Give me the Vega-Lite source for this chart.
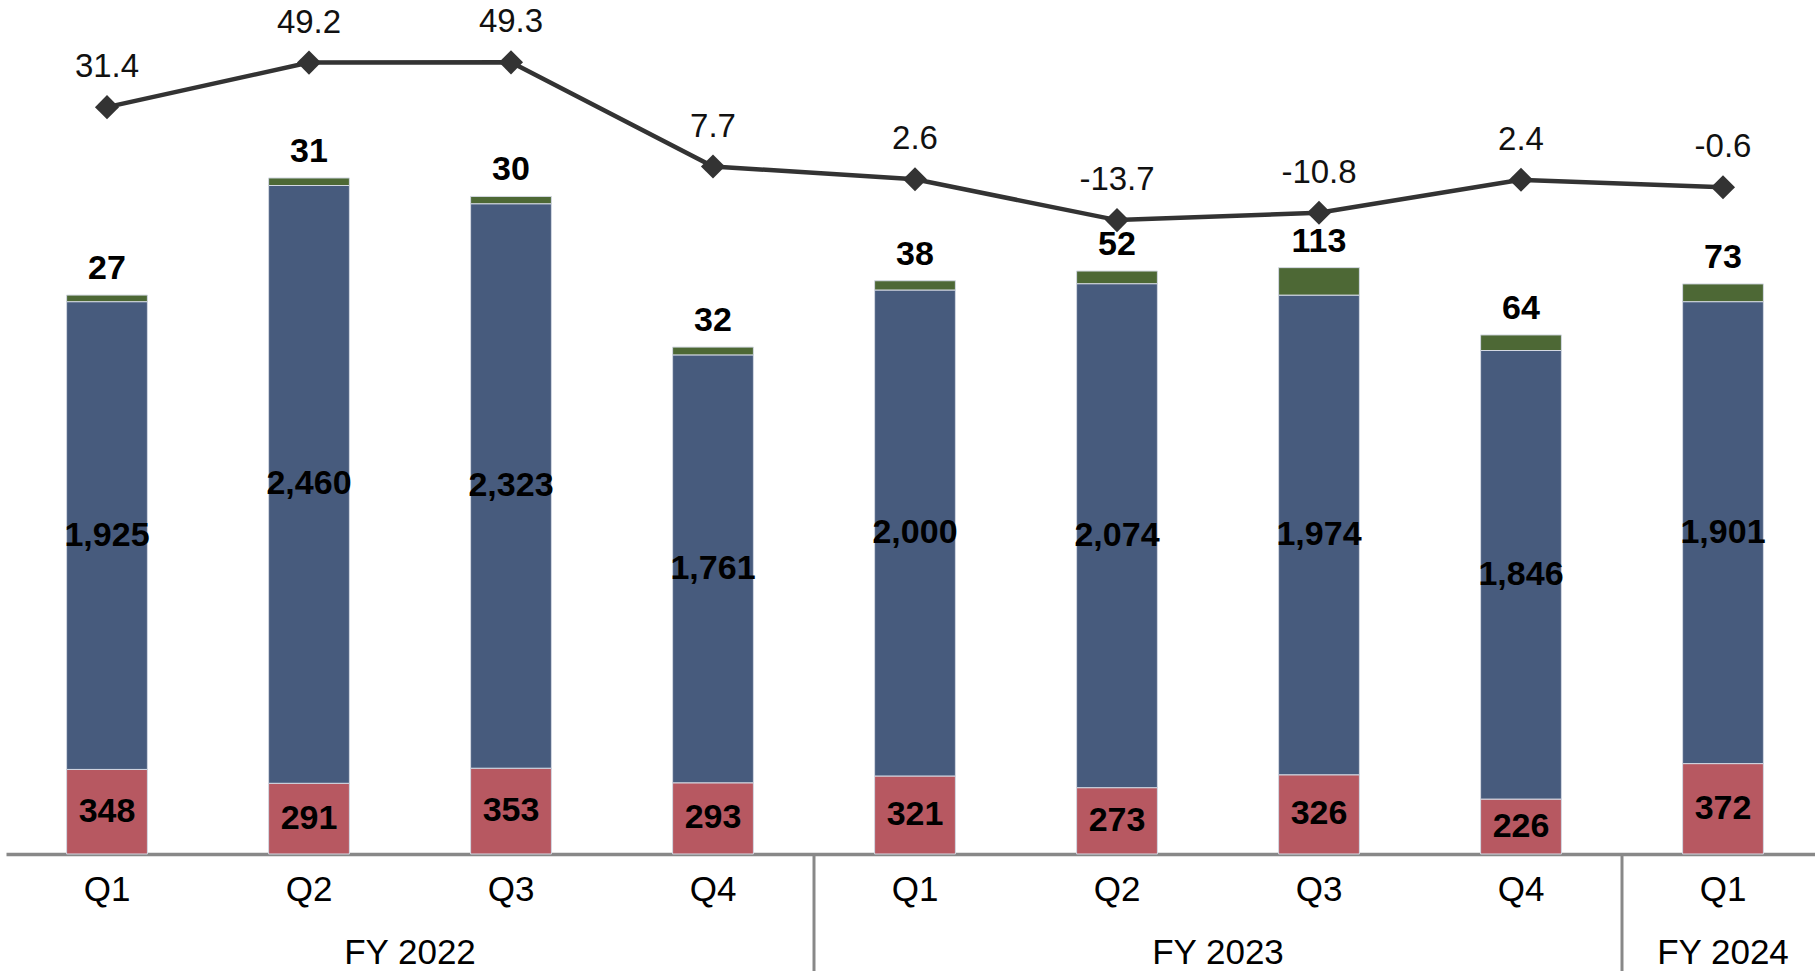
{
  "$schema": "https://vega.github.io/schema/vega-lite/v6.json",
  "autosize": {"type": "none"},
  "width": 1818,
  "height": 971,
  "padding": {"left": 6, "top": 0, "right": 0, "bottom": 0},
  "background": "white",
  "config": {"view": {"stroke": null}, "font": "Liberation Sans"},
  "datasets": {
    "segs": [
      {"key": "FY2022 Q1", "segment": "Segment A", "value": 348},
      {"key": "FY2022 Q1", "segment": "Segment B", "value": 1925},
      {"key": "FY2022 Q1", "segment": "Segment C", "value": 27},
      {"key": "FY2022 Q2", "segment": "Segment A", "value": 291},
      {"key": "FY2022 Q2", "segment": "Segment B", "value": 2460},
      {"key": "FY2022 Q2", "segment": "Segment C", "value": 31},
      {"key": "FY2022 Q3", "segment": "Segment A", "value": 353},
      {"key": "FY2022 Q3", "segment": "Segment B", "value": 2323},
      {"key": "FY2022 Q3", "segment": "Segment C", "value": 30},
      {"key": "FY2022 Q4", "segment": "Segment A", "value": 293},
      {"key": "FY2022 Q4", "segment": "Segment B", "value": 1761},
      {"key": "FY2022 Q4", "segment": "Segment C", "value": 32},
      {"key": "FY2023 Q1", "segment": "Segment A", "value": 321},
      {"key": "FY2023 Q1", "segment": "Segment B", "value": 2000},
      {"key": "FY2023 Q1", "segment": "Segment C", "value": 38},
      {"key": "FY2023 Q2", "segment": "Segment A", "value": 273},
      {"key": "FY2023 Q2", "segment": "Segment B", "value": 2074},
      {"key": "FY2023 Q2", "segment": "Segment C", "value": 52},
      {"key": "FY2023 Q3", "segment": "Segment A", "value": 326},
      {"key": "FY2023 Q3", "segment": "Segment B", "value": 1974},
      {"key": "FY2023 Q3", "segment": "Segment C", "value": 113},
      {"key": "FY2023 Q4", "segment": "Segment A", "value": 226},
      {"key": "FY2023 Q4", "segment": "Segment B", "value": 1846},
      {"key": "FY2023 Q4", "segment": "Segment C", "value": 64},
      {"key": "FY2024 Q1", "segment": "Segment A", "value": 372},
      {"key": "FY2024 Q1", "segment": "Segment B", "value": 1901},
      {"key": "FY2024 Q1", "segment": "Segment C", "value": 73}
    ],
    "quarters": [
      {"key": "FY2022 Q1", "growth": 31.4},
      {"key": "FY2022 Q2", "growth": 49.2},
      {"key": "FY2022 Q3", "growth": 49.3},
      {"key": "FY2022 Q4", "growth": 7.7},
      {"key": "FY2023 Q1", "growth": 2.6},
      {"key": "FY2023 Q2", "growth": -13.7},
      {"key": "FY2023 Q3", "growth": -10.8},
      {"key": "FY2023 Q4", "growth": 2.4},
      {"key": "FY2024 Q1", "growth": -0.6}
    ],
    "fiscal": [
      {"fy": "FY 2022", "key": "FY2022 Q2", "quarters": 4},
      {"fy": "FY 2023", "key": "FY2023 Q2", "quarters": 4},
      {"fy": "FY 2024", "key": "FY2024 Q1", "quarters": 1}
    ],
    "breaks": [
      {"key": "FY2022 Q4"},
      {"key": "FY2023 Q4"}
    ]
  },
  "resolve": {"scale": {"y": "independent"}, "axis": {"y": "independent"}},
  "encoding": {
    "x": {
      "field": "key",
      "type": "nominal",
      "sort": null,
      "scale": {
        "domain": ["FY2022 Q1", "FY2022 Q2", "FY2022 Q3", "FY2022 Q4", "FY2023 Q1", "FY2023 Q2", "FY2023 Q3", "FY2023 Q4", "FY2024 Q1"],
        "paddingInner": 0,
        "paddingOuter": 0
      },
      "axis": {
        "title": null,
        "orient": "bottom",
        "offset": -117,
        "domainColor": "#888888",
        "domainWidth": 3.5,
        "ticks": false,
        "tickSize": 0,
        "grid": false,
        "labelExpr": "split(datum.value, ' ')[1]",
        "labelFont": "Liberation Sans",
        "labelFontSize": 35,
        "labelColor": "#000000",
        "labelBaseline": "middle",
        "labelPadding": 35,
        "labelAngle": 0
      }
    }
  },
  "layer": [
    {
      "data": {"name": "segs"},
      "transform": [
        {"stack": "value", "groupby": ["key"], "sort": [{"field": "segment", "order": "ascending"}], "as": ["v0", "v1"]}
      ],
      "mark": {"type": "bar", "width": {"band": 0.4}, "stroke": "#d3d8e2", "strokeWidth": 1},
      "encoding": {
        "y": {"field": "v0", "type": "quantitative", "scale": {"domain": [-481.5, 3514.4], "nice": false, "zero": false}, "axis": null},
        "y2": {"field": "v1"},
        "color": {
          "field": "segment",
          "type": "nominal",
          "scale": {"domain": ["Segment A", "Segment B", "Segment C"], "range": ["#B75861", "#475B7D", "#4D6835"]},
          "legend": null
        }
      }
    },
    {
      "data": {"name": "segs"},
      "transform": [
        {"stack": "value", "groupby": ["key"], "sort": [{"field": "segment", "order": "ascending"}], "as": ["v0", "v1"]},
        {"filter": "datum.segment != 'Segment C'"},
        {"fold": ["v0", "v1"], "as": ["edge", "pos"]},
        {"aggregate": [{"op": "mean", "field": "pos", "as": "mid"}], "groupby": ["key", "segment", "value"]}
      ],
      "mark": {"type": "text", "font": "Liberation Sans", "fontSize": 34, "fontWeight": "bold", "color": "#000000", "baseline": "middle", "align": "center"},
      "encoding": {
        "y": {"field": "mid", "type": "quantitative", "scale": {"domain": [-481.5, 3514.4], "nice": false, "zero": false}, "axis": null},
        "text": {"field": "value", "type": "quantitative", "format": ",d"}
      }
    },
    {
      "data": {"name": "segs"},
      "transform": [
        {"stack": "value", "groupby": ["key"], "sort": [{"field": "segment", "order": "ascending"}], "as": ["v0", "v1"]},
        {"filter": "datum.segment == 'Segment C'"}
      ],
      "mark": {"type": "text", "font": "Liberation Sans", "fontSize": 34, "fontWeight": "bold", "color": "#000000", "baseline": "middle", "align": "center", "dy": -26},
      "encoding": {
        "y": {"field": "v1", "type": "quantitative", "scale": {"domain": [-481.5, 3514.4], "nice": false, "zero": false}, "axis": null},
        "text": {"field": "value", "type": "quantitative", "format": ",d"}
      }
    },
    {
      "data": {"name": "breaks"},
      "mark": {"type": "rule", "color": "#888888", "strokeWidth": 3},
      "encoding": {
        "x": {"field": "key", "type": "nominal", "bandPosition": 1},
        "y": {"datum": 0, "type": "quantitative", "scale": {"domain": [-481.5, 3514.4], "nice": false, "zero": false}, "axis": null},
        "y2": {"datum": -481.5}
      }
    },
    {
      "data": {"name": "fiscal"},
      "transform": [{"filter": "datum.quarters == 4"}],
      "mark": {"type": "text", "font": "Liberation Sans", "fontSize": 35, "color": "#000000", "baseline": "middle", "align": "center"},
      "encoding": {
        "x": {"field": "key", "type": "nominal", "bandPosition": 1},
        "y": {"datum": -407, "type": "quantitative", "scale": {"domain": [-481.5, 3514.4], "nice": false, "zero": false}, "axis": null},
        "text": {"field": "fy", "type": "nominal"}
      }
    },
    {
      "data": {"name": "fiscal"},
      "transform": [{"filter": "datum.quarters == 1"}],
      "mark": {"type": "text", "font": "Liberation Sans", "fontSize": 35, "color": "#000000", "baseline": "middle", "align": "center"},
      "encoding": {
        "x": {"field": "key", "type": "nominal", "bandPosition": 0.5},
        "y": {"datum": -407, "type": "quantitative", "scale": {"domain": [-481.5, 3514.4], "nice": false, "zero": false}, "axis": null},
        "text": {"field": "fy", "type": "nominal"}
      }
    },
    {
      "data": {"name": "quarters"},
      "mark": {"type": "line", "color": "#333333", "strokeWidth": 4.5},
      "encoding": {
        "y": {"field": "growth", "type": "quantitative", "scale": {"domain": [-313.6, 74.2], "nice": false, "zero": false}, "axis": null}
      }
    },
    {
      "data": {"name": "quarters"},
      "mark": {"type": "point", "shape": "diamond", "filled": true, "size": 580, "color": "#333333", "opacity": 1},
      "encoding": {
        "y": {"field": "growth", "type": "quantitative", "scale": {"domain": [-313.6, 74.2], "nice": false, "zero": false}, "axis": null}
      }
    },
    {
      "data": {"name": "quarters"},
      "mark": {"type": "text", "font": "Liberation Sans", "fontSize": 33, "color": "#111111", "baseline": "middle", "align": "center", "dy": -40},
      "encoding": {
        "y": {"field": "growth", "type": "quantitative", "scale": {"domain": [-313.6, 74.2], "nice": false, "zero": false}, "axis": null},
        "text": {"field": "growth", "type": "nominal"}
      }
    }
  ]
}
